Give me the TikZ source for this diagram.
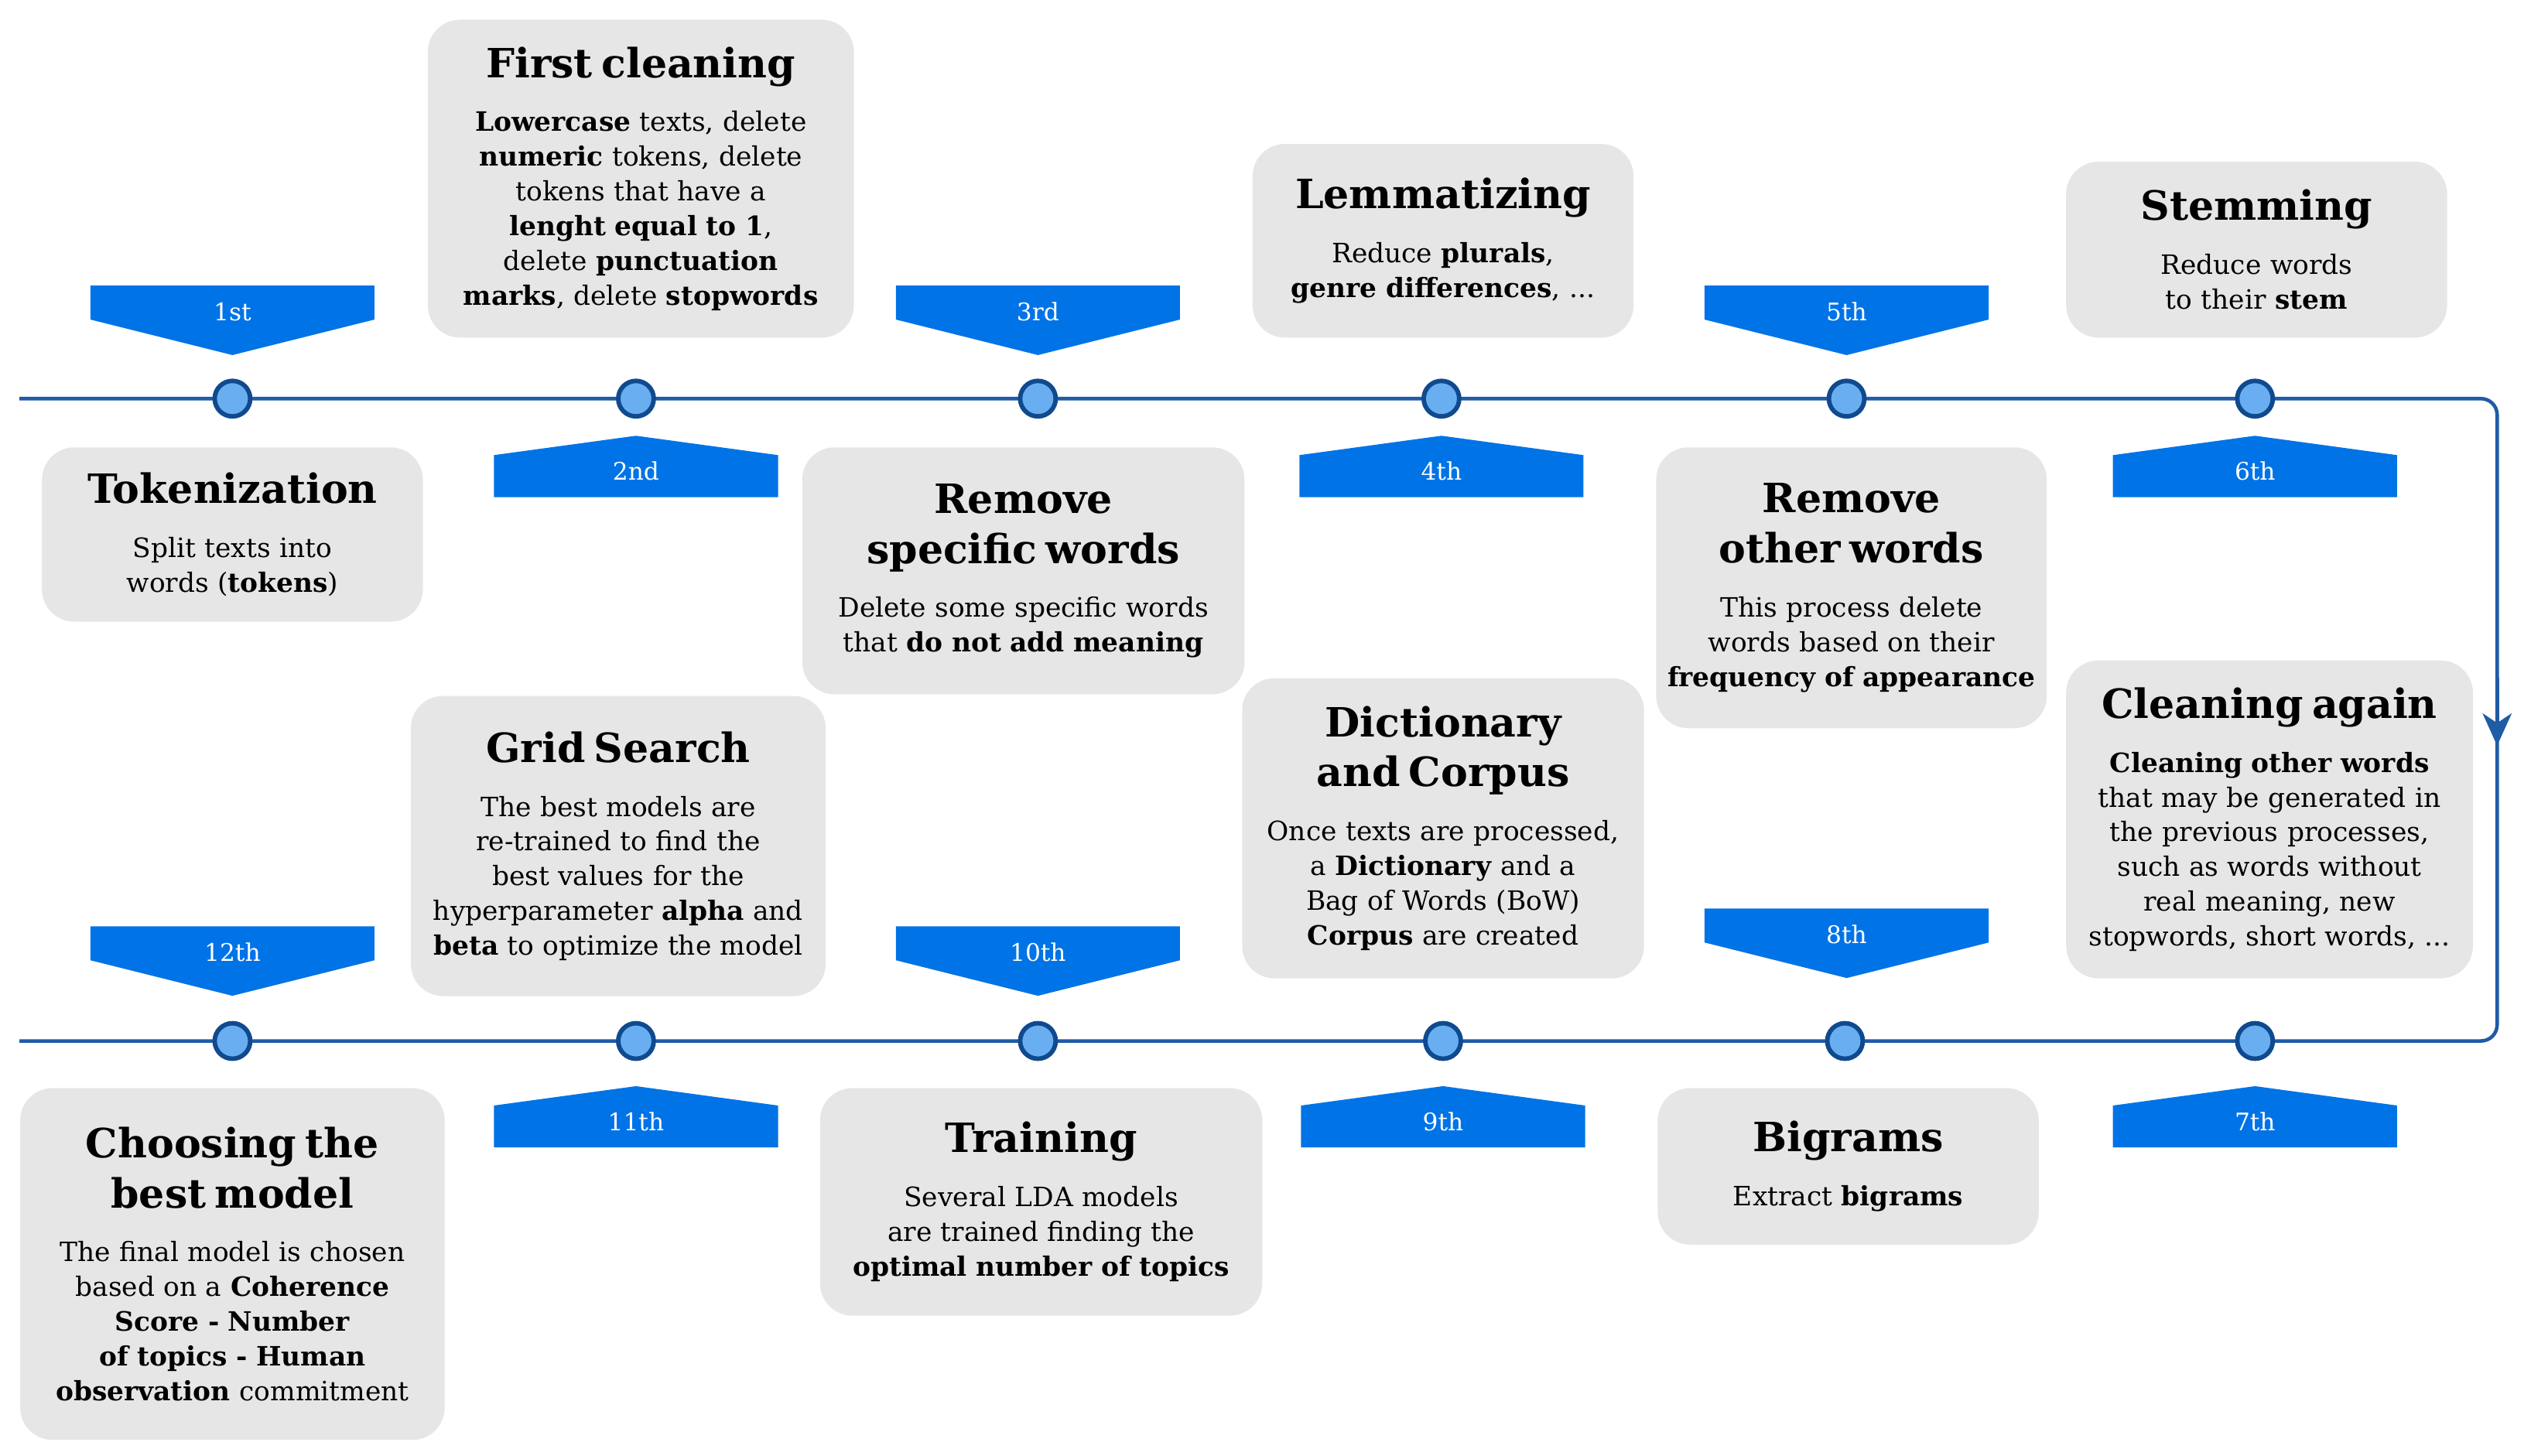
\documentclass[tikz,border=0pt]{standalone}
\usepackage{fontspec}
\setmainfont{DejaVu Serif}
\usetikzlibrary{arrows.meta}
\definecolor{lineblue}{HTML}{1F5BA6}
\definecolor{dotfill}{HTML}{69AEF0}
\definecolor{dotdraw}{HTML}{104A8E}
\definecolor{tagblue}{HTML}{0073E6}
\definecolor{boxgray}{HTML}{E6E6E6}
\newcommand{\ttlf}[1]{{\fontsize{25}{31}\selectfont\bfseries #1\par}\vspace{12pt}}
\newcommand{\bd}{\fontsize{16.5}{21.5}\selectfont\hyphenpenalty=10000\exhyphenpenalty=10000}
\begin{document}
\begin{tikzpicture}[x=1pt,y=-1pt,
  box/.style={fill=boxgray,rounded corners=20pt,anchor=north,align=center,inner xsep=3pt,inner ysep=8pt,font=\bd},
  dot/.style={circle,fill=dotfill,draw=dotdraw,line width=2.8pt,minimum size=22pt,inner sep=0pt},
  tl/.style={white,font=\fontsize{15}{18}\selectfont},
  tline/.style={lineblue,line width=2.2pt}]
\useasboundingbox (0,0) rectangle (1568,902);
\newcommand{\tagdown}[4]{\fill[tagblue] (#1-88,#2) -- (#1+88,#2) -- (#1+88,#2+21) -- (#1,#2+43) -- (#1-88,#2+21) -- cycle;
  \node[tl] (#4) at (#1,#2+16) {#3};}
\newcommand{\tagup}[4]{\fill[tagblue] (#1,#2) -- (#1+88,#2+12) -- (#1+88,#2+38) -- (#1-88,#2+38) -- (#1-88,#2+12) -- cycle;
  \node[tl] (#4) at (#1,#2+22) {#3};}
% timeline
\coordinate (ts) at (12,247);
\coordinate (am) at (1547,462);
\coordinate (be) at (12,645);
\draw[tline,rounded corners=10pt] (ts) -| (am);
\draw[tline,-{Stealth[length=20pt,width=18pt,inset=6pt]}] (1547,420) -- (am);
\draw[tline,rounded corners=10pt] (am) |- (be);
\foreach \x [count=\i] in {144,394,643,893,1144,1397} \node[dot] (t\i) at (\x,247) {};
\foreach \x [count=\i] in {144,394,643,894,1143,1397} \node[dot] (b\i) at (\x,645) {};
% tags
\tagdown{144}{177}{1st}{g1}
\tagup{394}{270}{2nd}{g2}
\tagdown{643}{177}{3rd}{g3}
\tagup{893}{270}{4th}{g4}
\tagdown{1144}{177}{5th}{g5}
\tagup{1397}{270}{6th}{g6}
\tagup{1397}{673}{7th}{g7}
\tagdown{1144}{563}{8th}{g8}
\tagup{894}{673}{9th}{g9}
\tagdown{643}{574}{10th}{g10}
\tagup{394}{673}{11th}{g11}
\tagdown{144}{574}{12th}{g12}
% boxes
\node[box,text width=258pt,minimum height=197pt] (n1) at (397,12) {\ttlf{First cleaning}\textbf{Lowercase} texts, delete \textbf{numeric} tokens, delete tokens that have a \textbf{lenght equal to 1}, delete \textbf{punctuation marks}, delete \textbf{stopwords}};
\node[box,text width=230pt,minimum height=120pt] (n2) at (894,89) {\ttlf{Lemmatizing}Reduce \textbf{plurals}, \textbf{genre differences}, ...};
\node[box,text width=230pt,minimum height=109pt] (n3) at (1398,100) {\ttlf{Stemming}Reduce words to their \textbf{stem}};
\node[box,text width=230pt,minimum height=108pt] (n4) at (144,277) {\ttlf{Tokenization}Split texts into words (\textbf{tokens})};
\node[box,text width=268pt,minimum height=153pt] (n5) at (634,277) {\ttlf{Remove specific words}Delete some specific words that \textbf{do not add meaning}};
\node[box,text width=236pt,minimum height=174pt] (n6) at (1147,277) {\ttlf{Remove other words}This process delete words based on their \textbf{frequency of appearance}};
\node[box,text width=251pt,minimum height=186pt] (n7) at (383,431) {\ttlf{Grid Search}The best models are re-trained to find the best values for the hyperparameter \textbf{alpha} and \textbf{beta} to optimize the model};
\node[box,text width=243pt,minimum height=186pt] (n8) at (894,420) {\ttlf{Dictionary and Corpus}Once texts are processed, a \textbf{Dictionary} and a Bag of Words (BoW) \textbf{Corpus} are created};
\node[box,text width=246pt,minimum height=197pt] (n9) at (1406,409) {\ttlf{Cleaning again}\textbf{Cleaning other words} that may be generated in the previous processes, such as words without real meaning, new stopwords, short words, ...};
\node[box,text width=257pt,minimum height=218pt] (n10) at (144,674) {\ttlf{Choosing the best model}The final model is chosen based on a \textbf{Coherence Score - Number of topics - Human observation} commitment};
\node[box,text width=268pt,minimum height=141pt] (n11) at (645,674) {\ttlf{Training}Several LDA models are trained finding the \textbf{optimal number of topics}};
\node[box,text width=230pt,minimum height=97pt] (n12) at (1145,674) {\ttlf{Bigrams}Extract \textbf{bigrams}};
\end{tikzpicture}
\end{document}
